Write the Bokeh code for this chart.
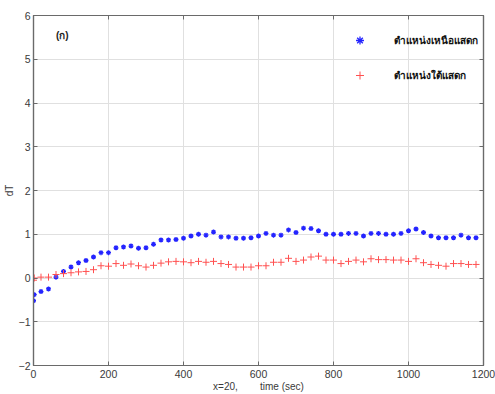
from bokeh.plotting import figure
from bokeh.models import LinearAxis, Legend, LegendItem, Label, FixedTicker, Range1d
from bokeh.embed import file_html
from bokeh.resources import INLINE

time_sec = [0, 2, 20, 40, 60, 80, 100, 120, 140, 160, 180, 200, 220, 240, 260, 280, 300,
            320, 340, 360, 380, 400, 420, 440, 460, 480, 500, 520, 540, 560, 580, 600,
            620, 640, 660, 680, 700, 720, 740, 760, 780, 800, 820, 840, 860, 880, 900,
            920, 940, 960, 980, 1000, 1020, 1040, 1060, 1080, 1100, 1120, 1140, 1160, 1180]

dT_north = [-0.52, -0.38, -0.31, -0.25, 0.02, 0.15, 0.25, 0.35, 0.40, 0.48, 0.58, 0.58,
            0.69, 0.71, 0.73, 0.68, 0.69, 0.77, 0.87, 0.87, 0.88, 0.91, 0.96, 1.00, 0.98,
            1.05, 0.94, 0.94, 0.91, 0.91, 0.92, 0.96, 1.02, 0.98, 0.98, 1.10, 1.04, 1.14,
            1.13, 1.08, 1.00, 1.00, 1.00, 1.02, 1.02, 0.96, 1.02, 1.02, 1.00, 1.00, 1.02,
            1.08, 1.12, 1.04, 0.96, 0.92, 0.92, 0.92, 0.98, 0.92, 0.92]

dT_south = [-0.05, 0.00, 0.02, 0.02, 0.08, 0.10, 0.12, 0.14, 0.15, 0.19, 0.28, 0.27,
            0.33, 0.29, 0.32, 0.28, 0.25, 0.29, 0.34, 0.37, 0.38, 0.37, 0.35, 0.38, 0.36,
            0.38, 0.33, 0.31, 0.25, 0.25, 0.25, 0.28, 0.28, 0.36, 0.36, 0.45, 0.38, 0.41,
            0.48, 0.50, 0.41, 0.41, 0.33, 0.38, 0.41, 0.37, 0.44, 0.42, 0.42, 0.41, 0.41,
            0.38, 0.44, 0.35, 0.31, 0.29, 0.27, 0.33, 0.33, 0.31, 0.31]

x_ticks = [0, 200, 400, 600, 800, 1000, 1200]
y_ticks = [-2, -1, 0, 1, 2, 3, 4, 5, 6]

label_north = "ตำแหน่งเหนือแสดก"
label_south = "ตำแหน่งใต้แสดก"
panel_tag = "(ก)"
x_label = "x=20,\u00a0\u00a0\u00a0\u00a0\u00a0\u00a0\u00a0\u00a0time (sec)"
y_label = "dT"

FONT = "Liberation Sans"
AXIS_COL = "#6a6a6a"
TEXT_COL = "#3a3a3a"

p = figure(width=495, height=394, output_backend="svg", toolbar_location=None,
           x_range=Range1d(0, 1200), y_range=Range1d(-2, 6),
           min_border_left=33, min_border_right=12, min_border_top=15, min_border_bottom=27)
p.background_fill_color = "white"
p.border_fill_color = "white"
p.outline_line_color = AXIS_COL
p.outline_line_width = 1.2

p.xgrid.grid_line_color = "#e0e0e0"
p.ygrid.grid_line_color = "#e0e0e0"
p.xgrid.ticker = FixedTicker(ticks=x_ticks)
p.ygrid.ticker = FixedTicker(ticks=y_ticks)


def style_axis(ax, ticks, show_labels):
    ax.ticker = FixedTicker(ticks=ticks)
    ax.axis_line_color = AXIS_COL
    ax.axis_line_width = 1.2
    ax.major_tick_line_color = AXIS_COL
    ax.major_tick_in = 4
    ax.major_tick_out = 0
    ax.minor_tick_line_color = None
    ax.major_label_text_font = FONT
    ax.major_label_text_color = TEXT_COL
    ax.major_label_text_font_size = "10.5px"
    if not show_labels:
        ax.major_label_overrides = {t: "" for t in ticks}
        ax.major_label_standoff = 0


xa = p.xaxis[0]
ya = p.yaxis[0]
style_axis(xa, x_ticks, True)
style_axis(ya, y_ticks, True)
xa.major_label_standoff = 4
ya.major_label_standoff = 3
xa.axis_label = x_label
xa.axis_label_standoff = 0
xa.axis_label_text_font = FONT
xa.axis_label_text_font_style = "normal"
xa.axis_label_text_font_size = "10px"
xa.axis_label_text_color = TEXT_COL
ya.axis_label = y_label
ya.axis_label_standoff = 1
ya.axis_label_text_font = FONT
ya.axis_label_text_font_style = "normal"
ya.axis_label_text_font_size = "10px"
ya.axis_label_text_color = TEXT_COL

top_ax = LinearAxis()
right_ax = LinearAxis()
style_axis(top_ax, x_ticks, False)
style_axis(right_ax, y_ticks, False)
p.add_layout(top_ax, "above")
p.add_layout(right_ax, "right")

r_north = p.scatter(time_sec, dT_north, marker="asterisk", size=5, line_color="#2424ff",
                    line_width=1.3)
r_south = p.scatter(time_sec, dT_south, marker="cross", size=7, line_color="#ff5050",
                    line_width=1.0)

legend = Legend(items=[LegendItem(label=label_north, renderers=[r_north]),
                       LegendItem(label=label_south, renderers=[r_south])],
                location=(299, 280), orientation="vertical",
                glyph_width=55, glyph_height=20, label_height=20, spacing=15,
                label_standoff=7, padding=0, margin=0,
                border_line_color=None, background_fill_alpha=0,
                label_text_font_size="10px", label_text_font_style="bold",
                label_text_color="#111111")
p.add_layout(legend)

p.add_layout(Label(x=60, y=5.55, text=panel_tag, text_font=FONT, text_font_size="10px",
                   text_font_style="bold", text_color="#222222", text_baseline="middle"))

open("out.html", "w").write(file_html(p, INLINE))
